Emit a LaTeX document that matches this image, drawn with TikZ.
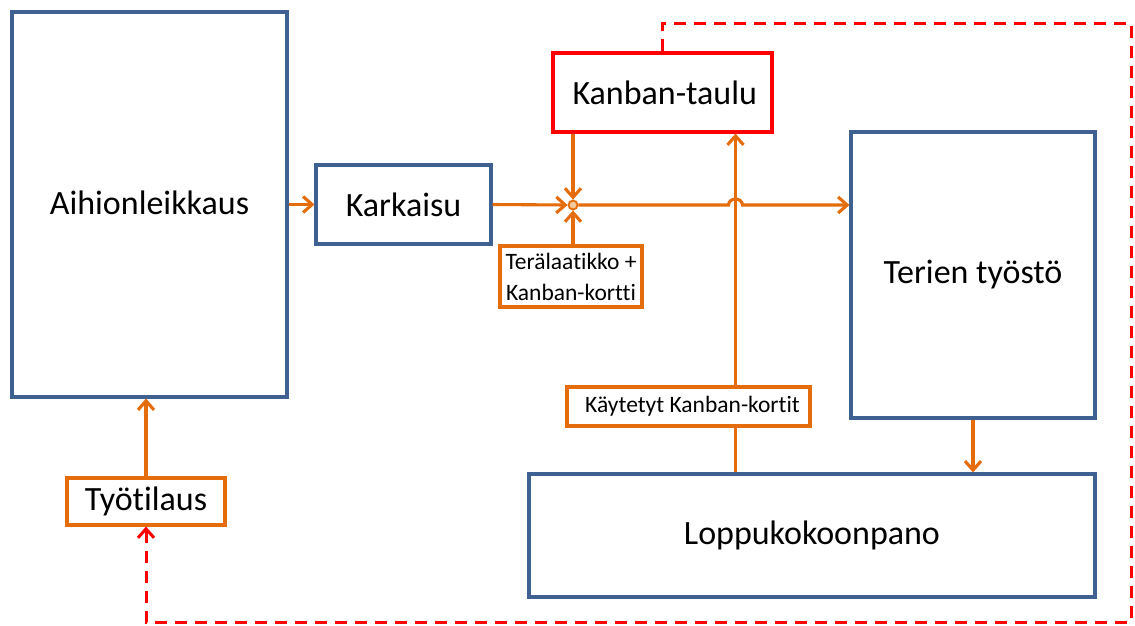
\documentclass[tikz,border=0pt]{standalone}
\usepackage{fontspec}
\setmainfont{Carlito}[Ligatures=NoCommon]
\usetikzlibrary{arrows.meta,calc}
\definecolor{boxblue}{HTML}{3F6192}
\definecolor{flow}{HTML}{E46C0A}
\definecolor{kred}{HTML}{FF0000}
\definecolor{junc}{HTML}{F6C99A}
\begin{document}
\begin{tikzpicture}[x=1pt,y=-1pt,
  stage/.style={draw=boxblue,line width=3.1pt,fill=white,inner sep=0pt,
    font=\fontsize{34}{40}\selectfont},
  tag/.style={draw=flow,line width=3.1pt,fill=white,inner sep=0pt,
    font=\fontsize{23.5}{31}\selectfont,align=center},
  board/.style={draw=kred,line width=3.1pt,fill=white,inner sep=0pt,
    font=\fontsize{34}{40}\selectfont},
  flowline/.style={draw=flow,line width=3.1pt,
    -{Straight Barb[length=9pt,width=16pt]}},
  plainflow/.style={draw=flow,line width=3.1pt},
  feedback/.style={draw=kred,line width=3pt,dash pattern=on 12pt off 8pt,
    -{Straight Barb[length=9pt,width=16pt]}}]
\useasboundingbox (0,0) rectangle (1135,625);

% process stages
\node[stage,minimum width=275pt,minimum height=385pt] (ai) at (149.5,204.5) {\raisebox{3pt}{Aihionleikkaus}};
\node[stage,minimum width=175pt,minimum height=79pt] (ka) at (403.5,204.5) {Karkaisu};
\node[stage,minimum width=244pt,minimum height=286pt] (tt) at (973,275) {Terien työstö};
\node[stage,minimum width=566pt,minimum height=123pt] (lp) at (812,535.5) {Loppukokoonpano};

% kanban board
\node[board,minimum width=219pt,minimum height=79pt,text width=200pt,align=left] (kt) at (662.5,92.5) {\hspace*{10pt}Kanban-taulu};

% cards and orders
\node[tag,minimum width=142pt,minimum height=61pt] (ter) at (571,276.5) {Terälaatikko +\\Kanban-kortti};
\node[tag,minimum width=243pt,minimum height=39pt] (kk) at (688.5,406.5) {\hspace*{8pt}Käytetyt Kanban-kortit};
\node[tag,minimum width=158pt,minimum height=47pt,font=\fontsize{34}{40}\selectfont] (ty) at (146,501.5) {Työtilaus};

% junction of the material and card flows
\node[circle,draw=flow,fill=junc,line width=1.8pt,minimum size=9pt,inner sep=0pt] (j) at (573,205) {};

% reference points on the card line
\coordinate (v) at ($(kk.north west)!0.691!(kk.north east)$);
\coordinate (hl) at ($(j -| v)+(-7,0)$);

% material flow, hopping over the card line
\draw[flowline] (ai.east |- ka) -- (ka.west);
\draw[flowline] (ka.east) -- (j.west);
\draw[flowline] (j |- kt.south) -- (j.north);
\draw[flowline] (j |- ter.north) -- (j.south);
\draw[flowline] (j.east) -- (hl) arc[start angle=180,end angle=360,x radius=7,y radius=6] -- (tt.west |- j);
\draw[flowline] (tt.south) -- (tt.south |- lp.north);
\draw[flowline] (ty.north) -- (ty.north |- ai.south);

% used cards back to the board
\draw[plainflow] (v |- lp.north) -- (v |- kk.south);
\draw[flowline] (v) -- (v |- kt.south);

% order feedback loop
\coordinate (c1) at (1131,23);
\coordinate (c2) at (1131,622);
\draw[feedback] (kt.north) |- (c1) -- (c2) -| (ty.south);
\end{tikzpicture}
\end{document}
